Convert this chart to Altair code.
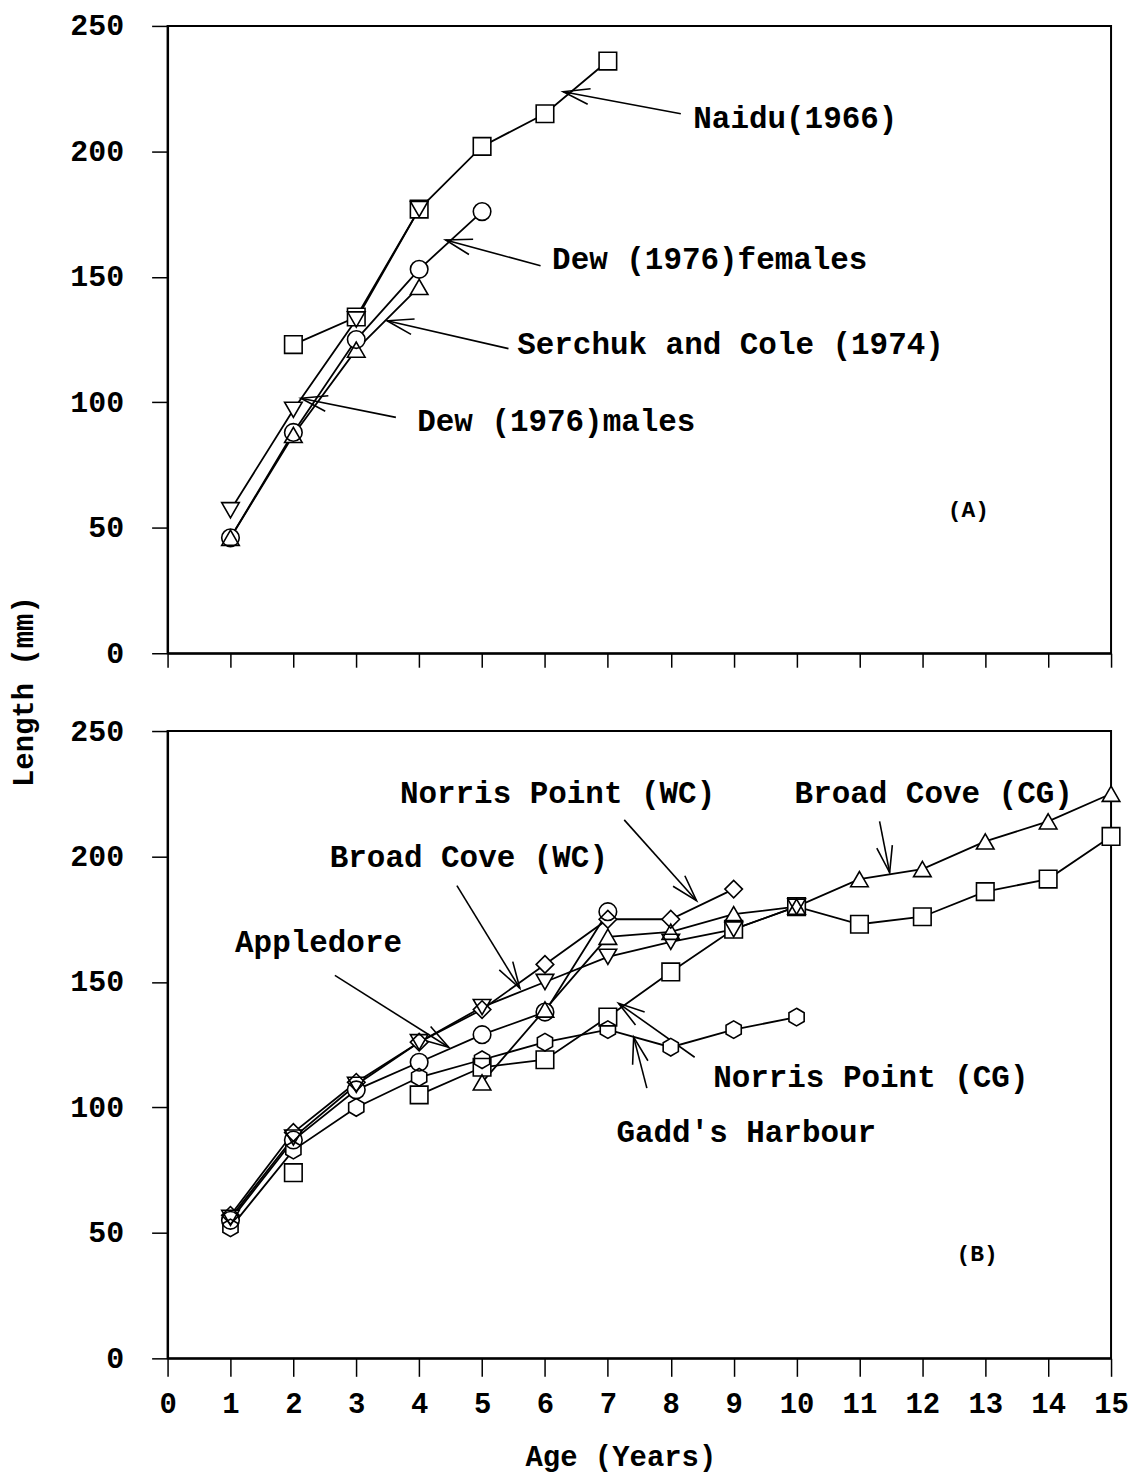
import math
import altair as alt
import pandas as pd

# ---------------- data: panel A ----------------
a_series = ["Naidu (1966)", "Dew (1976) females", "Serchuk and Cole (1974)", "Dew (1976) males"]
a_shapes = ["square", "circle", "triangle-up", "triangle-down"]
a_ages = [
    [2, 3, 4, 5, 6, 7],
    [1, 2, 3, 4, 5],
    [1, 2, 3, 4],
    [1, 2, 3, 4],
]
a_lengths = [
    [123, 134, 177, 202, 215, 236],
    [46, 88, 125, 153, 176],
    [46, 87, 121, 146],
    [57, 97, 133, 177],
]

# ---------------- data: panel B ----------------
b_series = ["Norris Point (WC)", "Broad Cove (WC)", "Appledore", "Gadd's Harbour",
            "Norris Point (CG)", "Broad Cove (CG)"]
HEX = "M0,-1L0.866,-0.5L0.866,0.5L0,1L-0.866,0.5L-0.866,-0.5Z"
b_shapes = ["diamond", "triangle-down", "circle", HEX, "square", "triangle-up"]
b_ages = [
    [1, 2, 3, 4, 5, 6, 7, 8, 9],
    [1, 2, 3, 4, 5, 6, 7, 8, 9, 10],
    [1, 2, 3, 4, 5, 6, 7],
    [1, 2, 3, 4, 5, 6, 7, 8, 9, 10],
    [2, 4, 5, 6, 7, 8, 9, 10, 11, 12, 13, 14, 15],
    [5, 6, 7, 8, 9, 10, 11, 12, 13, 14, 15],
]
b_lengths = [
    [57, 90, 110, 126, 139, 157, 175, 175, 187],
    [56, 88, 109, 126, 140, 150, 160, 166, 171, 180],
    [55, 87, 107, 118, 129, 138, 178],
    [52, 83, 100, 112, 119, 126, 131, 124, 131, 136],
    [74, 105, 116, 119, 136, 154, 171, 180, 173, 176, 186, 191, 208],
    [110, 139, 168, 170, 177, 180, 191, 195, 206, 214, 225],
]
# line segments (age 3 missing for Norris Point (CG): the age-2 point stands alone)
b_segments = [
    [0] * 9, [0] * 10, [0] * 7, [0] * 10,
    [0] + [1] * 12, [0] * 11,
]

# ---------------- annotations ----------------
a_lab_text = ["Naidu(1966)", "Dew  (1976)females", "Serchuk and Cole (1974)", "Dew  (1976)males"]
a_lab_x = [9.98, 8.62, 8.95, 6.18]
a_lab_y = [212.7, 156.7, 123.0, 92.0]
a_arr_x1 = [8.16, 5.93, 5.42, 3.63]
a_arr_y1 = [215.0, 154.4, 121.4, 94.0]
a_arr_x2 = [6.29, 4.42, 3.49, 2.12]
a_arr_y2 = [223.8, 164.7, 132.5, 101.6]

b_lab_text = ["Norris Point (WC)", "Broad Cove (WC)", "Appledore", "Broad Cove (CG)",
              "Norris Point (CG)", "Gadd's Harbour"]
b_lab_x = [6.2, 4.79, 2.4, 12.18, 11.18, 9.2]
b_lab_y = [225.0, 199.5, 165.7, 225.0, 111.7, 89.8]
b_arr_x1 = [7.26, 4.60, 2.66, 11.32, 8.38, 7.62]
b_arr_y1 = [214.6, 188.4, 152.6, 214.0, 120.0, 107.7]
b_arr_x2 = [8.41, 5.60, 4.47, 11.48, 7.17, 7.41]
b_arr_y2 = [182.4, 147.5, 124.0, 193.6, 141.5, 128.0]

panel_tag = ["(A)", "(B)"]
tag_x = [12.73, 12.87]
tag_y = [57.1, 41.7]

x_ticks = list(range(0, 16))
y_ticks = [0, 50, 100, 150, 200, 250]

W, H = 946, 629
FONT = "Liberation Mono"
ARROW = "M-1,-0.3L0,0L-1,0.3"


def build_points(series, shapes, ages, lengths, segments=None):
    rows = []
    for i, s in enumerate(series):
        for j, (a, l) in enumerate(zip(ages[i], lengths[i])):
            seg = segments[i][j] if segments else 0
            rows.append({"series": s, "shape": shapes[i], "age": a, "len": l,
                         "seg": f"{s}-{seg}"})
    return pd.DataFrame(rows)


def build_arrows(x1, y1, x2, y2):
    sx, sy = W / 15.0, H / 250.0
    rows = []
    for a, b, c, d in zip(x1, y1, x2, y2):
        dx = (c - a) * sx
        dy = -(d - b) * sy
        ang = math.degrees(math.atan2(dy, dx)) % 360
        rows.append({"x1": a, "y1": b, "x2": c, "y2": d, "ang": ang})
    return pd.DataFrame(rows)


def panel(df, labels, arrows, tag, bottom):
    xs = alt.Scale(domain=[0, 15], nice=False, zero=False)
    ys = alt.Scale(domain=[0, 250], nice=False)
    common = dict(grid=False, domainColor="black", tickColor="black", labelColor="black",
                  titleColor="black", domainWidth=2, tickWidth=1.5)
    if bottom:
        xax = alt.Axis(values=x_ticks, format="d", labelOverlap=False, labelFlush=False,
                       tickSize=18, labelPadding=13, labelFontSize=29, labelFont=FONT,
                       labelFontWeight="bold", title="Age  (Years)",
                       titleFont=FONT, titleFontSize=29, titleFontWeight="bold",
                       titleX=454, titleY=98, titleAlign="center",
                       titleBaseline="middle", **common)
        yax = alt.Axis(values=y_ticks, format="d", tickSize=16, labelPadding=28,
                       labelFontSize=30, labelFont=FONT, labelFontWeight="bold",
                       title="Length  (mm)", titleFont=FONT, titleFontSize=29,
                       titleFontWeight="bold", titleAngle=270, titleX=-144, titleY=-40,
                       titleAlign="center", titleBaseline="middle", **common)
    else:
        xax = alt.Axis(values=x_ticks, tickSize=14, labels=False, title=None, **common)
        yax = alt.Axis(values=y_ticks, format="d", tickSize=16, labelPadding=28,
                       labelFontSize=30, labelFont=FONT, labelFontWeight="bold",
                       title=None, **common)

    shp = alt.Shape("shape:N", scale=None, legend=None)
    base = alt.Chart(df)
    lines = base.mark_line(color="black", strokeWidth=1.8).encode(
        x=alt.X("age:Q", scale=xs, axis=xax),
        y=alt.Y("len:Q", scale=ys, axis=yax),
        detail="seg:N",
        order="age:Q",
    )
    fill = base.mark_point(filled=True, color="white", opacity=1, size=310).encode(
        x=alt.X("age:Q", scale=xs), y=alt.Y("len:Q", scale=ys), shape=shp)
    outline = base.mark_point(filled=False, color="black", strokeWidth=1.6, size=310,
                              opacity=1).encode(
        x=alt.X("age:Q", scale=xs), y=alt.Y("len:Q", scale=ys), shape=shp)

    arr = alt.Chart(arrows)
    shafts = arr.mark_rule(color="black", strokeWidth=1.6).encode(
        x=alt.X("x1:Q", scale=xs), y=alt.Y("y1:Q", scale=ys), x2="x2:Q", y2="y2:Q")
    heads = arr.mark_point(shape=ARROW, filled=False, color="black", strokeWidth=1.6,
                           size=2800, opacity=1).encode(
        x=alt.X("x2:Q", scale=xs), y=alt.Y("y2:Q", scale=ys),
        angle=alt.Angle("ang:Q", scale=None))

    txt = alt.Chart(labels).mark_text(font=FONT, fontWeight="bold", fontSize=31,
                                      color="black", align="center", baseline="middle").encode(
        x=alt.X("x:Q", scale=xs), y=alt.Y("y:Q", scale=ys), text="t:N")
    tagc = alt.Chart(tag).mark_text(font=FONT, fontWeight="bold", fontSize=23,
                                    color="black", align="center", baseline="middle").encode(
        x=alt.X("x:Q", scale=xs), y=alt.Y("y:Q", scale=ys), text="t:N")

    return alt.layer(lines, shafts, heads, fill, outline, txt, tagc).properties(width=W, height=H)


dfa = build_points(a_series, a_shapes, a_ages, a_lengths)
dfb = build_points(b_series, b_shapes, b_ages, b_lengths, b_segments)
laba = pd.DataFrame({"t": a_lab_text, "x": a_lab_x, "y": a_lab_y})
labb = pd.DataFrame({"t": b_lab_text, "x": b_lab_x, "y": b_lab_y})
arra = build_arrows(a_arr_x1, a_arr_y1, a_arr_x2, a_arr_y2)
arrb = build_arrows(b_arr_x1, b_arr_y1, b_arr_x2, b_arr_y2)
taga = pd.DataFrame({"t": [panel_tag[0]], "x": [tag_x[0]], "y": [tag_y[0]]})
tagb = pd.DataFrame({"t": [panel_tag[1]], "x": [tag_x[1]], "y": [tag_y[1]]})

top = panel(dfa, laba, arra, taga, bottom=False)
bot = panel(dfb, labb, arrb, tagb, bottom=True)

chart = alt.vconcat(top, bot, spacing=78, bounds="flush").properties(
    padding={"left": 0, "top": 0, "right": 0, "bottom": 4}
).configure(background="white").configure_view(stroke="black", strokeWidth=2)

chart.save("out.html", embed_options={"renderer": "svg", "actions": False})
